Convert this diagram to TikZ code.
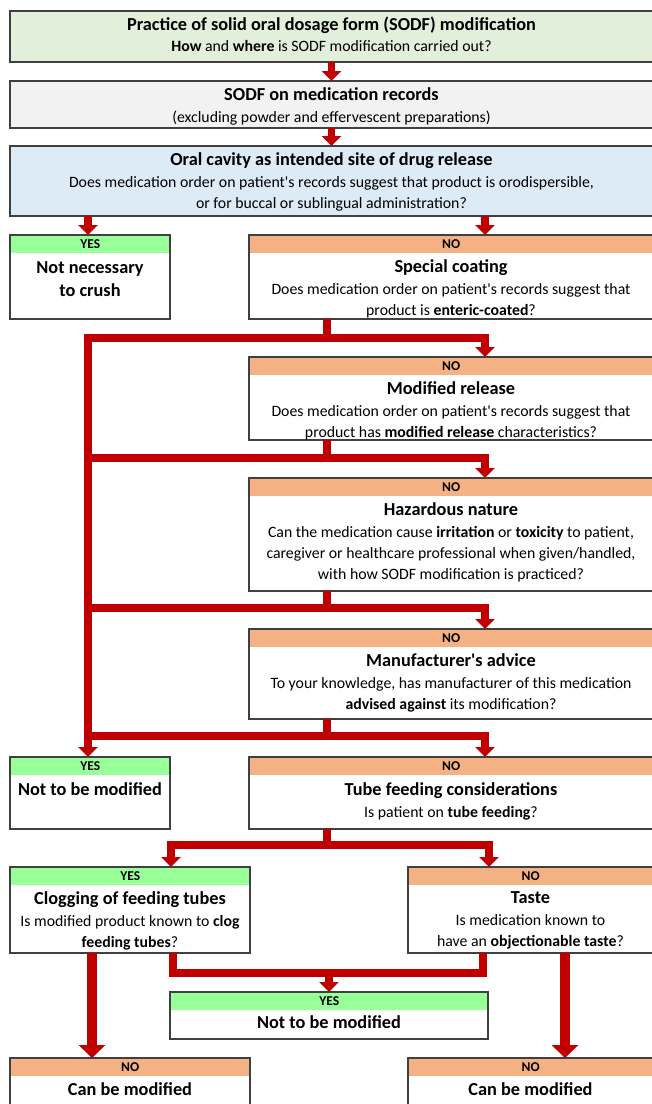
\documentclass[tikz,border=0pt]{standalone}
\usepackage{fontspec}
\setmainfont{Carlito}
\usetikzlibrary{arrows.meta}
\definecolor{flowred}{HTML}{C00000}
\definecolor{boxgrey}{HTML}{404040}
\definecolor{practicegreen}{HTML}{E2EFDA}
\definecolor{recordgrey}{HTML}{F2F2F2}
\definecolor{oralblue}{HTML}{DDEBF7}
\definecolor{yesgreen}{HTML}{99FF99}
\definecolor{noorange}{HTML}{F4B183}
\newcommand{\ttl}[1]{{\bfseries\fontsize{18.3}{21}\selectfont #1}}
\newcommand{\q}{\textquotesingle}

\begin{document}
\begin{tikzpicture}[x=1pt,y=-1pt,
  box/.style={draw=boxgrey,line width=1.3pt,anchor=north west,inner sep=0pt,outer sep=0pt},
  head/.style={fill=#1,anchor=north west,inner sep=0pt,minimum height=18pt,font=\bfseries\fontsize{13.5}{13}\selectfont},
  txt/.style={anchor=north,align=center,inner sep=0pt,font=\fontsize{15.8}{21}\selectfont},
  flow/.style={draw=flowred,line width=7.5pt},
  tip/.style={-{Triangle[width=19pt,length=10pt]}},
  tips/.style={{Triangle[width=19pt,length=10pt]}-{Triangle[width=19pt,length=10pt]}},
  bigtip/.style={line width=10pt,-{Triangle[width=26pt,length=13pt]}}]
\useasboundingbox[fill=white] (0,0) rectangle (652,1104);
\clip (0,0) rectangle (652,1104);
\coordinate (xl) at (88,0); \coordinate (xm) at (327,0); \coordinate (xr) at (485,0);
\coordinate (xk) at (171,0); \coordinate (xt) at (489,0); \coordinate (xa) at (173,0); \coordinate (xb) at (483,0);
\coordinate (xo) at (92,0); \coordinate (xp) at (565,0);
\coordinate (r1) at (0,338); \coordinate (r2) at (0,458); \coordinate (r3) at (0,608);
\coordinate (r4) at (0,736); \coordinate (r5) at (0,845); \coordinate (r6) at (0,973);

\node[box,fill=practicegreen,minimum width=643pt,minimum height=51pt] (practice) at (10,11) {};
\node[txt] (practice-t) at ([yshift=-6pt]practice.north) {\ttl{Practice of solid oral dosage form (SODF) modification}\\\textbf{How} and \textbf{where} is SODF modification carried out?};
\node[box,fill=recordgrey,minimum width=643pt,minimum height=47pt] (records) at (10,81) {};
\node[txt] (records-t) at ([yshift=-6pt]records.north) {\ttl{SODF on medication records}\\[1.5pt](excluding powder and effervescent preparations)};
\node[box,fill=oralblue,minimum width=643pt,minimum height=70pt] (oral) at (10,146) {};
\node[txt] (oral-t) at ([yshift=-6pt]oral.north) {\ttl{Oral cavity as intended site of drug release}\\[1.5pt]Does medication order on patient\q s records suggest that product is orodispersible,\\or for buccal or sublingual administration?};

\node[head=yesgreen,minimum width=160pt] (notcrush-h) at (10,235) {YES};
\node[box,minimum width=160pt,minimum height=84pt] (notcrush) at (10,235) {};
\node[txt] (notcrush-t) at ([yshift=-26pt]notcrush.north) {\ttl{Not necessary}\\[2pt]\ttl{to crush}};
\node[head=noorange,minimum width=404pt] (coat-h) at (249,235) {NO};
\node[box,minimum width=404pt,minimum height=84pt] (coat) at (249,235) {};
\node[txt] (coat-t) at ([yshift=-24pt]coat.north) {\ttl{Special coating}\\[1.5pt]Does medication order on patient\q s records suggest that\\product is \textbf{enteric-coated}?};

\node[head=noorange,minimum width=404pt] (release-h) at (249,357) {NO};
\node[box,minimum width=404pt,minimum height=83pt] (release) at (249,357) {};
\node[txt] (release-t) at ([yshift=-24pt]release.north) {\ttl{Modified release}\\[1.5pt]Does medication order on patient\q s records suggest that\\product has \textbf{modified release} characteristics?};

\node[head=noorange,minimum width=404pt] (hazard-h) at (249,478) {NO};
\node[box,minimum width=404pt,minimum height=113pt] (hazard) at (249,478) {};
\node[txt] (hazard-t) at ([yshift=-24pt]hazard.north) {\ttl{Hazardous nature}\\[1.5pt]Can the medication cause \textbf{irritation} or \textbf{toxicity} to patient,\\caregiver or healthcare professional when given/handled,\\with how SODF modification is practiced?};

\node[head=noorange,minimum width=404pt] (advice-h) at (249,629) {NO};
\node[box,minimum width=404pt,minimum height=90pt] (advice) at (249,629) {};
\node[txt] (advice-t) at ([yshift=-24pt]advice.north) {\ttl{Manufacturer\q s advice}\\[1.5pt]To your knowledge, has manufacturer of this medication\\\textbf{advised against} its modification?};

\node[head=yesgreen,minimum width=160pt] (notmod1-h) at (10,757) {YES};
\node[box,minimum width=160pt,minimum height=72pt] (notmod1) at (10,757) {};
\node[txt] (notmod1-t) at ([yshift=-25pt]notmod1.north) {\ttl{Not to be modified}};
\node[head=noorange,minimum width=404pt] (tube-h) at (249,757) {NO};
\node[box,minimum width=404pt,minimum height=72pt] (tube) at (249,757) {};
\node[txt] (tube-t) at ([yshift=-25pt]tube.north) {\ttl{Tube feeding considerations}\\[1.5pt]Is patient on \textbf{tube feeding}?};

\node[head=yesgreen,minimum width=240pt] (clog-h) at (10,867) {YES};
\node[box,minimum width=240pt,minimum height=86pt] (clog) at (10,867) {};
\node[txt] (clog-t) at ([yshift=-24pt]clog.north) {\ttl{Clogging of feeding tubes}\\[1.5pt]Is modified product known to \textbf{clog}\\\textbf{feeding tubes}?};
\node[head=noorange,minimum width=245pt] (taste-h) at (408,867) {NO};
\node[box,minimum width=245pt,minimum height=86pt] (taste) at (408,867) {};
\node[txt] (taste-t) at ([yshift=-24pt]taste.north) {\ttl{Taste}\\[1.5pt]Is medication known to\\have an \textbf{objectionable taste}?};

\node[head=yesgreen,minimum width=318pt] (notmod2-h) at (170,992) {YES};
\node[box,minimum width=318pt,minimum height=47pt] (notmod2) at (170,992) {};
\node[txt] (notmod2-t) at ([yshift=-23pt]notmod2.north) {\ttl{Not to be modified}};

\node[head=noorange,minimum width=240pt] (canmod1-h) at (10,1058) {NO};
\node[box,minimum width=240pt,minimum height=60pt] (canmod1) at (10,1058) {};
\node[txt] (canmod1-t) at ([yshift=-24pt]canmod1.north) {\ttl{Can be modified}};
\node[head=noorange,minimum width=245pt] (canmod2-h) at (408,1058) {NO};
\node[box,minimum width=245pt,minimum height=60pt] (canmod2) at (408,1058) {};
\node[txt] (canmod2-t) at ([yshift=-24pt]canmod2.north) {\ttl{Can be modified}};

\draw[flow,tip] (practice) -- (records);
\draw[flow,tip] (records) -- (oral);
\draw[flow,tip] (oral.south -| xl) -- (notcrush.north -| xl);
\draw[flow,tip] (oral.south -| xr) -- (coat.north -| xr);
\draw[flow] (coat.south -| xm) -- (r1 -| xm);
\draw[flow,tips] (notmod1.north -| xl) -- (r1 -| xl) -| (release.north -| xr);
\draw[flow] (release.south -| xm) -- (r2 -| xm);
\draw[flow,tip] (r2 -| xl) -| (hazard.north -| xr);
\draw[flow] (hazard.south -| xm) -- (r3 -| xm);
\draw[flow,tip] (r3 -| xl) -| (advice.north -| xr);
\draw[flow] (advice.south -| xm) -- (r4 -| xm);
\draw[flow,tip] (r4 -| xl) -| (tube.north -| xr);
\draw[flow] (tube.south -| xm) -- (r5 -| xm);
\draw[flow,tips] (clog.north -| xk) -- (r5 -| xk) -- (r5 -| xt) -- (taste.north -| xt);
\draw[flow] (clog.south -| xa) -- (r6 -| xa) -- (r6 -| xb) -- (taste.south -| xb);
\draw[flow,tip] (r6 -| notmod2.north) -- (notmod2.north);
\draw[flow,bigtip] (clog.south -| xo) -- (canmod1.north -| xo);
\draw[flow,bigtip] (taste.south -| xp) -- (canmod2.north -| xp);
\end{tikzpicture}
\end{document}
